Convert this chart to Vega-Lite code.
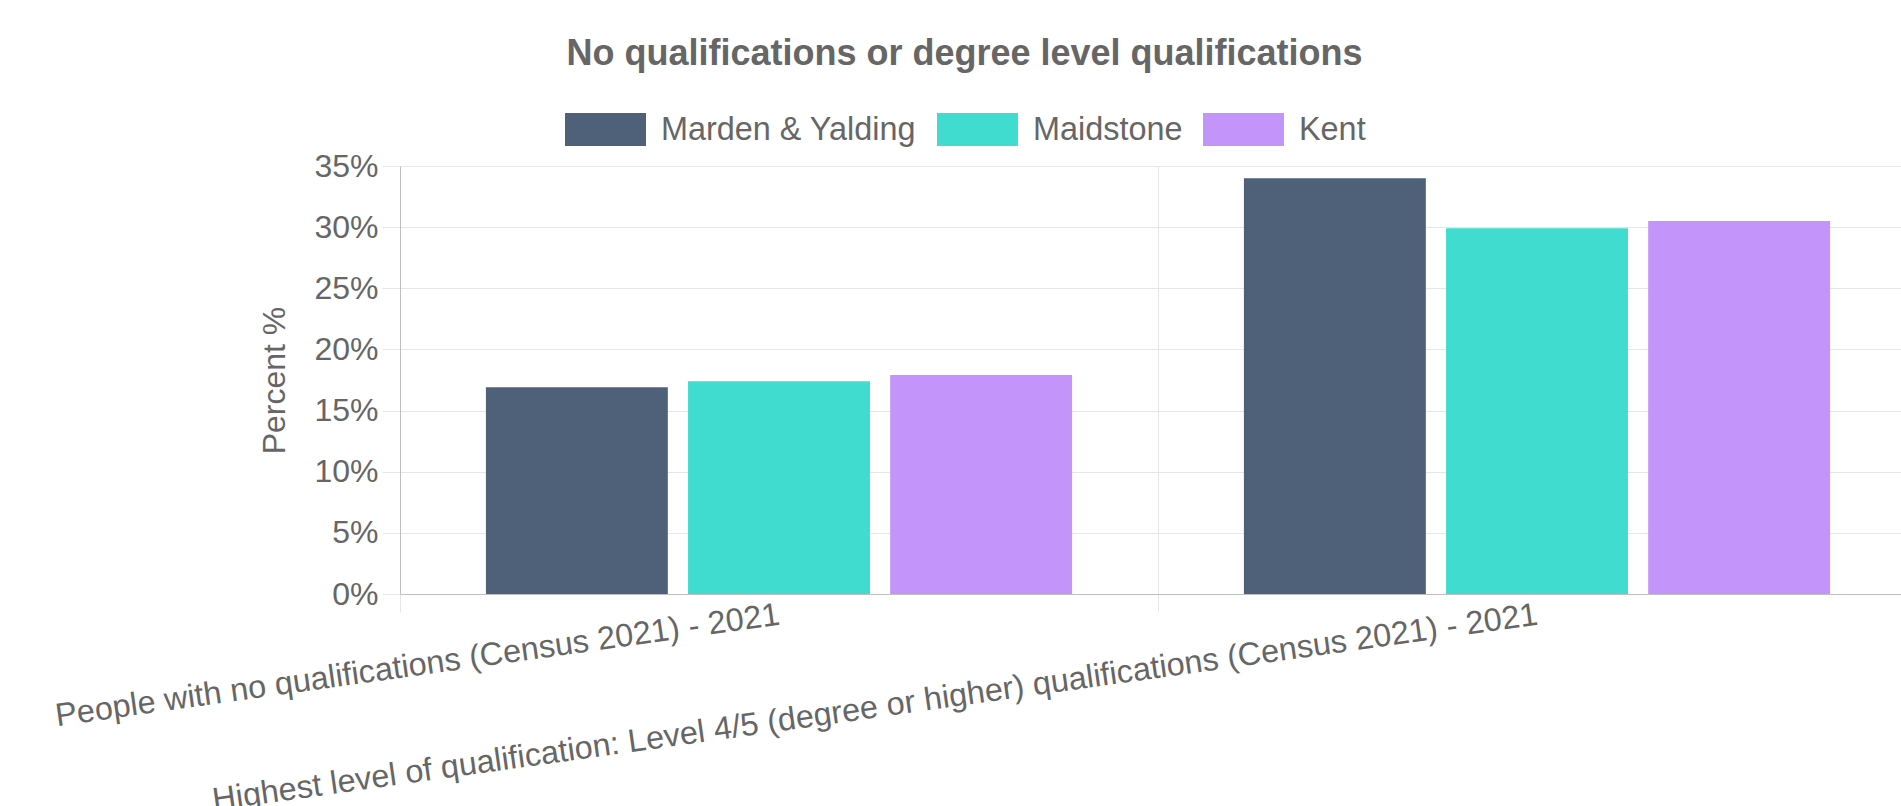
{
  "$schema": "https://vega.github.io/schema/vega-lite/v6.json",
  "autosize": {"type": "none"},
  "padding": {"left": 400, "top": 166, "right": 0, "bottom": 212},
  "width": 1501,
  "height": 428,
  "background": "white",
  "title": {
    "text": "No qualifications or degree level qualifications",
    "font": "Liberation Sans",
    "fontSize": 36,
    "fontWeight": "bold",
    "color": "#666666",
    "anchor": "middle",
    "frame": "group",
    "dx": -186,
    "dy": -12
  },
  "data": {
    "values": [
      {"indicator": "People with no qualifications (Census 2021) - 2021", "area": "Marden & Yalding", "percent": 16.9},
      {"indicator": "People with no qualifications (Census 2021) - 2021", "area": "Maidstone", "percent": 17.4},
      {"indicator": "People with no qualifications (Census 2021) - 2021", "area": "Kent", "percent": 17.9},
      {"indicator": "Highest level of qualification: Level 4/5 (degree or higher) qualifications (Census 2021) - 2021", "area": "Marden & Yalding", "percent": 34.0},
      {"indicator": "Highest level of qualification: Level 4/5 (degree or higher) qualifications (Census 2021) - 2021", "area": "Maidstone", "percent": 29.9},
      {"indicator": "Highest level of qualification: Level 4/5 (degree or higher) qualifications (Census 2021) - 2021", "area": "Kent", "percent": 30.5}
    ]
  },
  "mark": {"type": "bar"},
  "encoding": {
    "x": {
      "field": "indicator",
      "type": "nominal",
      "sort": null,
      "scale": {"range": [0, 1516], "paddingInner": 0, "paddingOuter": 0},
      "axis": {
        "title": null,
        "labelAngle": -8,
        "labelAlign": "right",
        "labelBaseline": "middle",
        "labelFont": "Liberation Sans",
        "labelFontSize": 32.4,
        "labelColor": "#666666",
        "labelLimit": 0,
        "labelOverlap": false,
        "labelPadding": 2,
        "labelDx": -8,
        "tickSize": 18,
        "tickBand": "extent",
        "tickColor": "#e6e6e6",
        "grid": true,
        "gridColor": "#e6e6e6",
        "domainColor": "#bfbfbf"
      }
    },
    "xOffset": {
      "field": "area",
      "type": "nominal",
      "sort": ["Marden & Yalding", "Maidstone", "Kent"],
      "scale": {"paddingInner": 0.1, "paddingOuter": 0.425}
    },
    "y": {
      "field": "percent",
      "type": "quantitative",
      "title": "Percent %",
      "scale": {"domain": [0, 35], "nice": false},
      "axis": {
        "values": [0, 5, 10, 15, 20, 25, 30, 35],
        "labelExpr": "datum.value + '%'",
        "labelFont": "Liberation Sans",
        "labelFontSize": 32,
        "labelColor": "#666666",
        "labelPadding": 4,
        "tickSize": 18,
        "tickColor": "#e6e6e6",
        "gridColor": "#e6e6e6",
        "domainColor": "#bfbfbf",
        "titleFont": "Liberation Sans",
        "titleFontSize": 32,
        "titleFontWeight": "normal",
        "titleColor": "#666666",
        "titlePadding": 22
      }
    },
    "color": {
      "field": "area",
      "type": "nominal",
      "sort": ["Marden & Yalding", "Maidstone", "Kent"],
      "scale": {"domain": ["Marden & Yalding", "Maidstone", "Kent"], "range": ["#4f6079", "#40dccf", "#c395fa"]},
      "legend": {
        "orient": "none",
        "legendX": 165,
        "legendY": -77,
        "direction": "horizontal",
        "title": null,
        "symbolType": "M-1,-0.407H1V0.407H-1Z",
        "symbolSize": 6561,
        "symbolStrokeWidth": 0,
        "symbolOpacity": 1,
        "labelFont": "Liberation Sans",
        "labelFontSize": 32.4,
        "labelColor": "#666666",
        "labelOffset": 15,
        "columnPadding": 20,
        "labelLimit": 0
      }
    }
  }
}
